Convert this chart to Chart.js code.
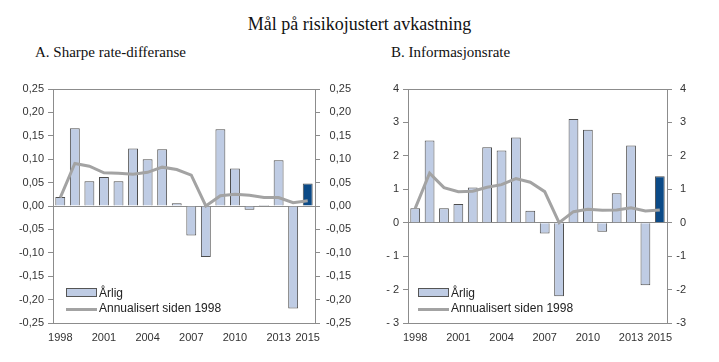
<!DOCTYPE html>
<html>
<head>
<meta charset="utf-8">
<script src="https://cdn.jsdelivr.net/npm/chart.js@4/dist/chart.umd.min.js"></script>
<style>
    body { margin: 0; background: #fff; }
    #wrap { position: relative; width: 719px; height: 362px; overflow: hidden; font-family: "Liberation Sans", Arial, sans-serif; color: #222; }
    .panel { position: absolute; top: 75px; height: 287px; }
    .serif { position: absolute; font-family: "Liberation Serif", "Times New Roman", serif; color: #111; white-space: nowrap; }
    .leg { position: absolute; font-size: 12px; line-height: 14px; color: #222; white-space: nowrap; }
    .swatch { position: absolute; width: 29px; height: 7px; background: #BFCCE4; border: 1px solid #555; }
    .lineKey { position: absolute; width: 31px; height: 3px; background: #A3A3A3; }
</style>
</head>
<body>
<div id="wrap">
    <div class="serif" style="left:0;width:719px;text-align:center;top:15px;font-size:18px;line-height:18px;">Mål på risikojustert avkastning</div>
    <div class="serif" style="left:35px;top:45px;font-size:15px;line-height:15px;">A. Sharpe rate-differanse</div>
    <div class="serif" style="left:391px;top:45px;font-size:15px;line-height:15px;">B. Informasjonsrate</div>

    <div class="panel" style="left:0;width:360px;"><canvas id="chartA"></canvas></div>
    <div class="panel" style="left:360px;width:359px;"><canvas id="chartB"></canvas></div>

    <!-- legende A -->
    <div class="swatch" style="left:66px;top:288px;"></div>
    <div class="leg" style="left:99px;top:286px;">Årlig</div>
    <div class="lineKey" style="left:66px;top:308px;"></div>
    <div class="leg" style="left:99px;top:301px;">Annualisert siden 1998</div>

    <!-- legende B -->
    <div class="swatch" style="left:418px;top:288px;"></div>
    <div class="leg" style="left:451px;top:286px;">Årlig</div>
    <div class="lineKey" style="left:418px;top:308px;"></div>
    <div class="leg" style="left:451px;top:301px;">Annualisert siden 1998</div>
</div>

<script>
// Data
const years = [1998, 1999, 2000, 2001, 2002, 2003, 2004, 2005, 2006, 2007, 2008, 2009, 2010, 2011, 2012, 2013, 2014, 2015];
const visibleYears = [1998, 2001, 2004, 2007, 2010, 2013, 2015];

const sharpeAarlig = [0.019, 0.166, 0.053, 0.062, 0.053, 0.123, 0.100, 0.121, 0.006, -0.063, -0.109, 0.164, 0.080, -0.008, 0.002, 0.098, -0.219, 0.048];
const sharpeAnnualisert = [0.018, 0.091, 0.085, 0.071, 0.070, 0.068, 0.072, 0.083, 0.078, 0.066, 0.000, 0.022, 0.025, 0.023, 0.018, 0.018, 0.007, 0.011];

const infoAarlig = [0.43, 2.46, 0.43, 0.56, 1.05, 2.26, 2.16, 2.55, 0.36, -0.32, -2.20, 3.10, 2.78, -0.27, 0.88, 2.31, -1.87, 1.39];
const infoAnnualisert = [0.43, 1.48, 1.05, 0.93, 0.94, 1.06, 1.14, 1.32, 1.21, 0.93, 0.00, 0.33, 0.40, 0.37, 0.38, 0.45, 0.35, 0.38];

const barColor = '#BFCCE4';
const lastBarColor = '#0B4A87';
const lineColor = '#A3A3A3';
const axisColor = '#8C8C8C';

Chart.defaults.font.family = '"Liberation Sans", Arial, sans-serif';
Chart.defaults.font.size = 11;
Chart.defaults.color = '#333';

// Lager ett panel: stolper (årlig) + linje (annualisert)
const lagGraf = (elementId, aarlig, annualisert, opts) => {
    const ctx = document.getElementById(elementId);
    const farger = aarlig.map((v, i) => i === aarlig.length - 1 ? lastBarColor : barColor);

    return new Chart(ctx, {
        data: {
            labels: years,
            datasets: [
                {
                    type: 'line',
                    label: 'Annualisert siden 1998',
                    data: annualisert,
                    borderColor: lineColor,
                    borderWidth: 3,
                    pointRadius: 0,
                    tension: 0,
                    order: 0
                },
                {
                    type: 'bar',
                    label: 'Årlig',
                    data: aarlig,
                    backgroundColor: farger,
                    borderColor: '#4D4D4D',
                    borderWidth: 1,
                    categoryPercentage: 1,
                    barPercentage: 0.68,
                    order: 1
                }
            ]
        },
        options: {
            responsive: true,
            maintainAspectRatio: false,
            animation: false,
            layout: { padding: { top: 14, left: 0, right: opts.padRight, bottom: 0 } },
            plugins: {
                legend: { display: false },
                tooltip: { enabled: false }
            },
            scales: {
                x: {
                    offset: true,
                    grid: { display: false, drawTicks: false },
                    border: { display: true, color: axisColor },
                    ticks: {
                        autoSkip: false,
                        maxRotation: 0,
                        padding: 8,
                        callback: function(value, index) {
                            const y = years[index];
                            return visibleYears.includes(y) ? String(y) : '';
                        }
                    },
                    afterFit: (scale) => { scale.height = 39; }
                },
                y: {
                    position: 'left',
                    min: opts.min,
                    max: opts.max,
                    grid: {
                        // bare nullinje og øvre ramme inne i plottet
                        color: (c) => {
                            if (!c.tick) return 'transparent';
                            const v = c.tick.value;
                            return (Math.abs(v) < 1e-9 || Math.abs(v - opts.max) < 1e-9) ? axisColor : 'transparent';
                        },
                        tickColor: axisColor,
                        tickLength: 5
                    },
                    border: { display: true, color: axisColor },
                    ticks: {
                        stepSize: opts.step,
                        padding: 4,
                        callback: opts.fmtLeft
                    },
                    afterFit: (scale) => { scale.width = opts.leftW; }
                },
                y2: {
                    position: 'right',
                    min: opts.min,
                    max: opts.max,
                    grid: { drawOnChartArea: false, tickColor: axisColor, tickLength: 5 },
                    border: { display: true, color: axisColor },
                    ticks: {
                        stepSize: opts.step,
                        padding: 4,
                        crossAlign: 'far',
                        callback: opts.fmtRight
                    },
                    afterFit: (scale) => { scale.width = opts.rightW; }
                }
            }
        }
    });
};

const fmtDesimal = (v) => {
    if (Math.abs(v) < 1e-9) v = 0;
    return v.toFixed(2).replace('.', ',');
};

lagGraf('chartA', sharpeAarlig, sharpeAnnualisert, {
    min: -0.25, max: 0.25, step: 0.05,
    leftW: 53, rightW: 36, padRight: 9,
    fmtLeft: fmtDesimal,
    fmtRight: fmtDesimal
});

lagGraf('chartB', infoAarlig, infoAnnualisert, {
    min: -3, max: 4, step: 1,
    leftW: 48, rightW: 19, padRight: 33,
    fmtLeft: (v) => v < 0 ? '- ' + Math.abs(v) : String(v),
    fmtRight: (v) => String(v)
});
</script>
</body>
</html>
